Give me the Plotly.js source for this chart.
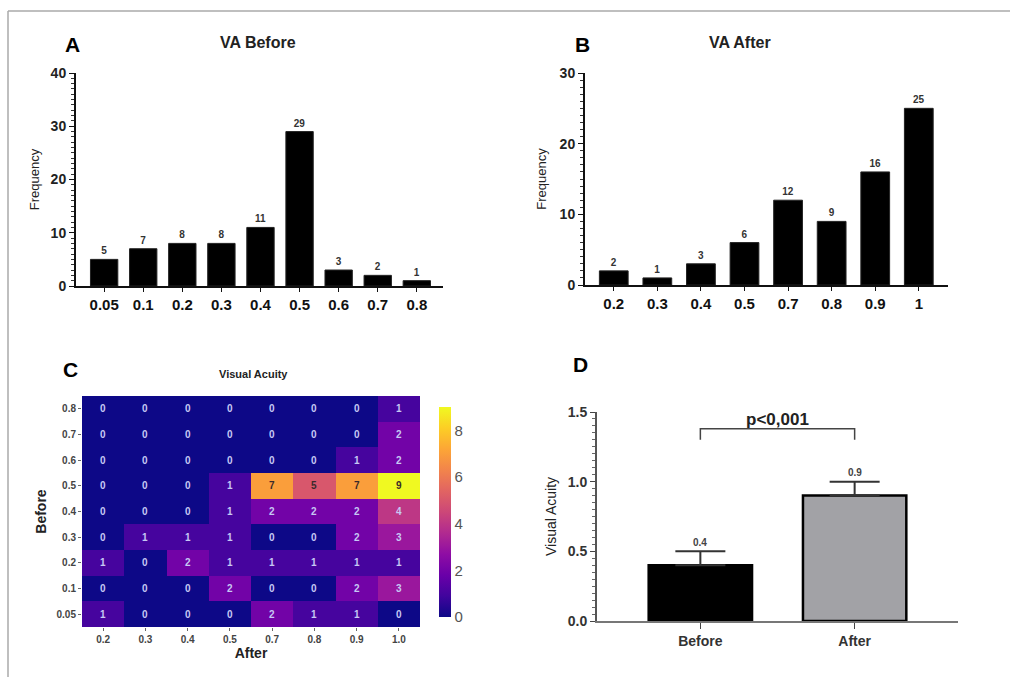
<!DOCTYPE html>
<html><head><meta charset="utf-8">
<script src="https://cdn.plot.ly/plotly-3.0.1.min.js"></script>
<style>html,body{margin:0;padding:0;background:#fff}#chart{width:1010px;height:677px}</style>
</head><body><div id="chart"></div>
<script>
// ---- data ----
const beforeCats = ['0.05','0.1','0.2','0.3','0.4','0.5','0.6','0.7','0.8'];
const beforeFreq = [5,7,8,8,11,29,3,2,1];
const afterCats = ['0.2','0.3','0.4','0.5','0.7','0.8','0.9','1'];
const afterFreq = [2,1,3,6,12,9,16,25];
const hmX = ['0.2','0.3','0.4','0.5','0.7','0.8','0.9','1.0'];
const hmY = ['0.05','0.1','0.2','0.3','0.4','0.5','0.6','0.7','0.8'];
const hmZ = [
  [1,0,0,0,2,1,1,0],
  [0,0,0,2,0,0,2,3],
  [1,0,2,1,1,1,1,1],
  [0,1,1,1,0,0,2,3],
  [0,0,0,1,2,2,2,4],
  [0,0,0,1,7,5,7,9],
  [0,0,0,0,0,0,1,2],
  [0,0,0,0,0,0,0,2],
  [0,0,0,0,0,0,0,1]
];
const groups = ['Before','After'];
const groupMean = [0.4,0.9];
const groupErr = [0.1,0.1];
const pText = 'p<0,001';

const W=1010,H=677;
const px=v=>v/W, py=v=>1-v/H;
const F='Arial, "Liberation Sans", sans-serif';
const plasma=[[0,'#0d0887'],[0.1,'#41049d'],[0.2,'#6a00a8'],[0.3,'#8f0da4'],[0.4,'#b12a90'],[0.5,'#cc4778'],[0.6,'#e16462'],[0.7,'#f2844b'],[0.8,'#fca636'],[0.9,'#fcce25'],[1,'#f0f921']];

const traces=[
 {type:'bar',x:beforeCats,y:beforeFreq,xaxis:'x',yaxis:'y',marker:{color:'#000',line:{color:'#222',width:1}},width:0.7,
  text:beforeFreq.map(String),textposition:'outside',textfont:{family:F,size:10,color:'#333',weight:'bold'},cliponaxis:false,hoverinfo:'none'},
 {type:'bar',x:afterCats,y:afterFreq,xaxis:'x2',yaxis:'y2',marker:{color:'#000',line:{color:'#222',width:1}},width:0.66,
  text:afterFreq.map(String),textposition:'outside',textfont:{family:F,size:10,color:'#333',weight:'bold'},cliponaxis:false,hoverinfo:'none'},
 {type:'heatmap',x:hmX,y:hmY,z:hmZ,xaxis:'x3',yaxis:'y3',colorscale:plasma,zmin:0,zmax:9,
  colorbar:{x:px(429),xanchor:'left',thickness:12,len:(627-397)/H,y:py(627),yanchor:'bottom',outlinewidth:0,
   tickvals:[0,2,4,6,8],ticks:'',tickfont:{family:F,size:15,color:'#555'}},hoverinfo:'none'},
 {type:'bar',x:groups,y:groupMean,xaxis:'x4',yaxis:'y4',width:0.67,
  marker:{color:['#000','#a2a2a6'],line:{color:'#000',width:2.5}},
  error_y:{type:'data',symmetric:false,array:groupErr,arrayminus:[0,0],width:25,thickness:2,color:'#333'},hoverinfo:'none'}
];

const P=(t,x,y,size,color)=>({text:t,x:px(x),y:py(y),xref:'paper',yref:'paper',xanchor:'center',yanchor:'middle',showarrow:false,font:{family:F,size:size,color:color}});
const annotations=[
 P('<b>A</b>',72,45,21,'#000'),
 P('<b>VA Before</b>',258,42,16,'#222'),
 P('<b>B</b>',582,45,21,'#000'),
 P('<b>VA After</b>',740,42,16,'#222'),
 P('<b>C</b>',70,369,21,'#000'),
 P('<b>Visual Acuity</b>',253,374,11,'#222'),
 P('<b>D</b>',580,364,21,'#000'),
 P('<b>'+pText+'</b>',777,419,17,'#222')
];
hmY.forEach((yy,i)=>hmX.forEach((xx,j)=>{
  const v=hmZ[i][j];
  annotations.push({text:'<b>'+v+'</b>',x:j,y:i,xref:'x3',yref:'y3',showarrow:false,
    font:{family:F,size:10,color:v>=5?'#3a2a2a':'#c6c8f4'}});
}));
groups.forEach((g,i)=>annotations.push({text:'<b>'+groupMean[i]+'</b>',x:i,y:groupMean[i]+groupErr[i],xref:'x4',yref:'y4',
  yshift:9,showarrow:false,font:{family:F,size:10,color:'#444'}}));

const shapes=[
 {type:'line',xref:'paper',yref:'paper',x0:px(8),x1:px(8),y0:py(11),y1:0,line:{color:'#aaa',width:1.5}},
 {type:'line',xref:'paper',yref:'paper',x0:px(8),x1:1,y0:py(11),y1:py(11),line:{color:'#aaa',width:1.5}},
 {type:'path',xref:'x4',yref:'y4',path:'M 0,1.3 L 0,1.38 L 1,1.38 L 1,1.3',line:{color:'#444',width:1.5}}
];

const yMajor={family:F,size:14,color:'#222',weight:'bold'};
const layout={
 width:W,height:H,margin:{l:0,r:0,t:0,b:0},paper_bgcolor:'#fff',plot_bgcolor:'#fff',showlegend:false,
 font:{family:F},
 xaxis:{type:'category',domain:[px(76),px(443)],range:[-0.72,8.67],showline:true,linecolor:'#111',linewidth:2,ticks:'outside',ticklen:4,tickcolor:'#111',
   tickfont:{family:F,size:15,color:'#111',weight:'bold'},anchor:'y'},
 yaxis:{domain:[py(286),py(73)],range:[0,40],dtick:10,showline:true,linecolor:'#111',linewidth:2,ticks:'outside',ticklen:5,tickcolor:'#111',
   minor:{dtick:1,ticks:'outside',ticklen:3,tickcolor:'#333'},showgrid:false,zeroline:false,
   tickfont:yMajor,title:{text:'Frequency',font:{family:F,size:13,color:'#222'},standoff:8},anchor:'x'},
 xaxis2:{type:'category',domain:[px(585),px(948)],range:[-0.66,7.67],showline:true,linecolor:'#111',linewidth:2,ticks:'outside',ticklen:4,tickcolor:'#111',
   tickfont:{family:F,size:15,color:'#111',weight:'bold'},anchor:'y2'},
 yaxis2:{domain:[py(285),py(73)],range:[0,30],dtick:10,showline:true,linecolor:'#111',linewidth:2,ticks:'outside',ticklen:5,tickcolor:'#111',
   minor:{dtick:1,ticks:'outside',ticklen:3,tickcolor:'#333'},showgrid:false,zeroline:false,
   tickfont:yMajor,title:{text:'Frequency',font:{family:F,size:13,color:'#222'},standoff:10},anchor:'x2'},
 xaxis3:{type:'category',domain:[px(82),px(420)],ticks:'outside',ticklen:3,tickcolor:'#666',tickfont:{family:F,size:10,color:'#444',weight:'bold'},
   title:{text:'After',font:{family:F,size:14,color:'#222',weight:'bold'},standoff:3},anchor:'y3',showgrid:false},
 yaxis3:{type:'category',domain:[py(627),py(396)],ticks:'outside',ticklen:3,tickcolor:'#666',tickfont:{family:F,size:10,color:'#444',weight:'bold'},
   title:{text:'Before',font:{family:F,size:14,color:'#222',weight:'bold'},standoff:6},anchor:'x3',showgrid:false},
 xaxis4:{type:'category',domain:[px(597),px(958)],range:[-0.67,1.67],showline:true,linecolor:'#777',linewidth:2,ticks:'outside',ticklen:6,tickcolor:'#444',
   tickfont:{family:F,size:14,color:'#333',weight:'bold'},anchor:'y4'},
 yaxis4:{domain:[py(621),py(412)],range:[0,1.5],dtick:0.5,tickformat:'.1f',showline:true,linecolor:'#555',linewidth:2,ticks:'outside',ticklen:5,tickcolor:'#444',
   minor:{dtick:0.05,ticks:'outside',ticklen:3,tickcolor:'#666'},showgrid:false,zeroline:false,
   tickfont:{family:F,size:14,color:'#333',weight:'bold'},title:{text:'Visual Acuity',font:{family:F,size:14,color:'#222'},standoff:8},anchor:'x4'},
 annotations:annotations,shapes:shapes
};
Plotly.newPlot('chart',traces,layout,{staticPlot:true,displayModeBar:false});
</script></body></html>
